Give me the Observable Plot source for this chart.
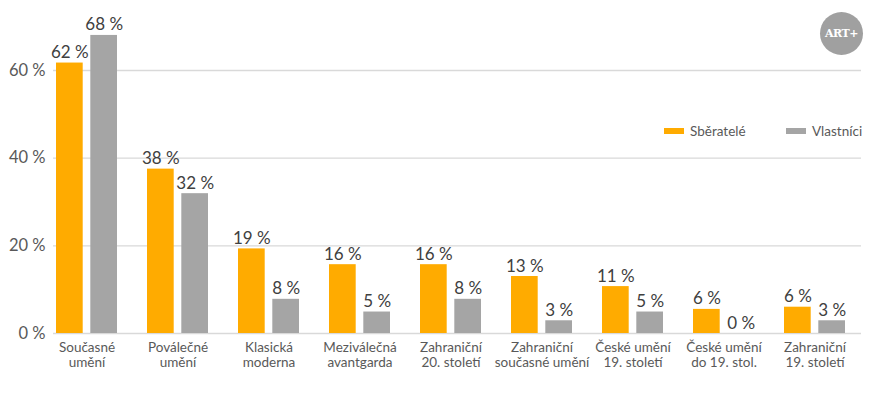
<!DOCTYPE html>
<html>
<head>
<meta charset="utf-8">
<script src="https://cdn.jsdelivr.net/npm/d3@7"></script>
<script src="https://cdn.jsdelivr.net/npm/@observablehq/plot@0.6"></script>
<style>
  body { margin: 0; background: #fff; font-family: Lato, "Open Sans", sans-serif; }
  #wrap { position: relative; width: 876px; height: 398px; }
  .item { position: absolute; top: 122px; font-size: 13.5px; color: #595959; display: flex; align-items: center; height: 18px; }
  .sw { display: inline-block; width: 20px; height: 6px; margin-right: 6px; }
  #logo { position: absolute; left: 820px; top: 12px; width: 43px; height: 43px; border-radius: 50%; background: #A0A0A0;
          color: #fff; font: bold 11px "DejaVu Serif", serif; letter-spacing: -0.5px; display: flex; align-items: center; justify-content: center; }
</style>
</head>
<body>
<div id="wrap"></div>
<script>
const categories = [
  "Současné\numění",
  "Poválečné\numění",
  "Klasická\nmoderna",
  "Meziválečná\navantgarda",
  "Zahraniční\n20. století",
  "Zahraniční\nsoučasné umění",
  "České umění\n19. století",
  "České umění\ndo 19. stol.",
  "Zahraniční\n19. století"
];
const seriesNames = ["Sběratelé", "Vlastníci"];
const sberatele = [61.7, 37.5, 19.3, 15.7, 15.7, 13.0, 10.7, 5.5, 6.0];
const vlastnici = [68.0, 31.9, 7.8, 4.9, 7.8, 2.9, 4.9, 0, 2.9];
const colors = ["#FFAB00", "#A5A5A5"];
const yTicks = [0, 20, 40, 60];

const data = categories.flatMap((c, i) => [
  {cat: c, series: seriesNames[0], value: sberatele[i]},
  {cat: c, series: seriesNames[1], value: vlastnici[i]}
]);
const s0 = data.filter(d => d.series === seriesNames[0]);
const s1 = data.filter(d => d.series === seriesNames[1]);
const fmt = d => `${Math.round(d.value)} %`;

const chart = Plot.plot({
  width: 876,
  height: 398,
  marginLeft: 53,
  marginRight: 15,
  marginTop: 20,
  marginBottom: 65,
  style: {fontFamily: "Lato, 'Open Sans', sans-serif", background: "#fff"},
  x: {domain: categories, range: [40, 861], paddingInner: 0.331, paddingOuter: 0.1655},
  y: {domain: [0, 60], range: [333, 70]},
  marks: [
    Plot.ruleY(yTicks, {stroke: "#D9D9D9", strokeWidth: 1.3}),
    Plot.barY(s0, {x: "cat", y: "value", fill: colors[0], insetRight: 34.3}),
    Plot.barY(s1, {x: "cat", y: "value", fill: colors[1], insetLeft: 34.3}),
    Plot.text(s0, {x: "cat", y: "value", text: fmt, dx: -17.15, dy: -5, lineAnchor: "bottom", fontSize: 17, fill: "#404040"}),
    Plot.text(s1, {x: "cat", y: "value", text: fmt, dx: 17.15, dy: -5, lineAnchor: "bottom", fontSize: 17, fill: "#404040"}),
    Plot.axisX({tickSize: 0, tickPadding: 8, fontSize: 13.5, fill: "#595959", lineHeight: 1.12, label: null}),
    Plot.axisY({ticks: yTicks, tickFormat: d => `${d} %`, tickSize: 0, tickPadding: 8, fontSize: 16.5, fill: "#595959", label: null})
  ]
});

const wrap = document.getElementById("wrap");
wrap.appendChild(chart);

const legendX = [664, 786];
seriesNames.forEach((name, i) => {
  const it = document.createElement("div");
  it.className = "item";
  it.style.left = legendX[i] + "px";
  const sw = document.createElement("span");
  sw.className = "sw";
  sw.style.background = colors[i];
  it.appendChild(sw);
  it.appendChild(document.createTextNode(name));
  wrap.appendChild(it);
});
const logo = document.createElement("div");
logo.id = "logo";
logo.textContent = "ART+";
wrap.appendChild(logo);
</script>
</body>
</html>
